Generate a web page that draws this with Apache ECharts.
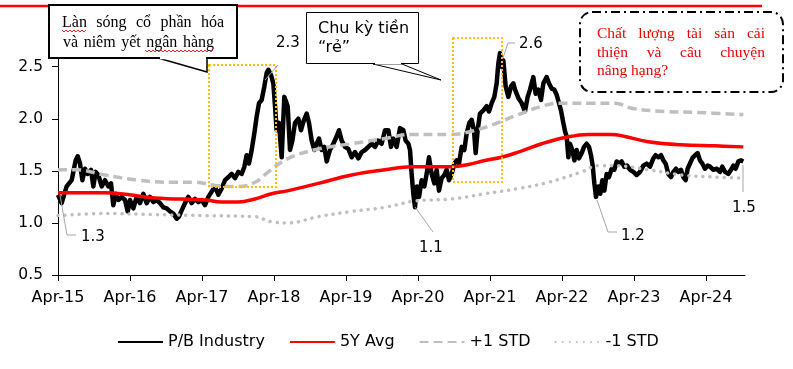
<!DOCTYPE html>
<html><head><meta charset="utf-8">
<script src="https://cdn.jsdelivr.net/npm/echarts@6/dist/echarts.min.js"></script>
<style>html,body{margin:0;padding:0;background:#fff}#c{width:793px;height:369px}</style>
</head><body><div id="c"></div>
<script>
// x = months since Apr-2015
const tickLabels = ['Apr-15','Apr-16','Apr-17','Apr-18','Apr-19','Apr-20','Apr-21','Apr-22','Apr-23','Apr-24'];
const seriesNames = ['P/B Industry','5Y Avg','+1 STD','-1 STD'];

const pbIndustry = [
[0,1.27],[0.61,1.19],[1.44,1.35],[2.28,1.41],[2.94,1.60],[3.28,1.64],[3.67,1.57],[4.06,1.41],[4.5,1.52],[4.94,1.47],
[5.5,1.51],[5.89,1.35],[6.28,1.49],[6.72,1.46],[7.28,1.35],[7.83,1.41],[8.39,1.35],[8.83,1.38],[9.22,1.17],[9.61,1.28],
[10.06,1.22],[10.61,1.25],[11.17,1.22],[11.61,1.11],[12,1.22],[12.56,1.14],[13.11,1.25],[13.67,1.19],[14.22,1.28],[14.78,1.19],
[15.33,1.25],[15.89,1.20],[16.44,1.22],[17,1.19],[17.56,1.15],[18.11,1.14],[18.67,1.11],[19.22,1.09],[19.78,1.04],[20.17,1.06],
[20.61,1.12],[21.17,1.19],[21.72,1.25],[22.28,1.19],[22.83,1.23],[23.39,1.20],[23.94,1.22],[24.5,1.17],[25.06,1.25],[25.61,1.30],
[26.17,1.35],[26.72,1.27],[27.28,1.33],[27.83,1.41],[28.39,1.44],[28.94,1.47],[29.5,1.43],[30.06,1.49],[30.61,1.47],[31.06,1.54],
[31.44,1.65],[31.83,1.57],[32.28,1.70],[32.72,1.86],[33.11,2.02],[33.5,2.15],[33.94,2.18],[34.39,2.31],[34.78,2.44],[35.06,2.47],
[35.5,2.42],[35.89,2.34],[36.17,2.12],[36.44,1.89],[36.83,1.96],[37.28,1.63],[37.72,2.21],
[38.28,2.12],[38.67,1.70],[39.06,1.79],[39.5,1.96],[40.06,2.00],[40.5,1.89],[40.89,1.97],[41.44,2.05],[41.83,1.96],[42.28,1.79],
[42.72,1.70],[43.11,1.76],[43.5,1.81],[43.94,1.70],[44.39,1.73],[44.78,1.59],[45.33,1.70],[45.89,1.76],[46.44,1.83],[46.83,1.89],
[47.28,1.79],[47.83,1.73],[48.39,1.71],[48.94,1.63],[49.5,1.68],[50.06,1.62],[50.61,1.68],[51.17,1.70],[51.72,1.73],[52.28,1.76],
[52.83,1.73],[53.39,1.79],[53.94,1.76],[54.5,1.89],[55.06,1.89],[55.5,1.73],[55.89,1.81],[56.44,1.73],[57,1.91],[57.56,1.89],
[57.94,1.79],[58.39,1.76],[58.67,1.70],[58.94,1.47],[59.22,1.28],[59.5,1.15],[59.83,1.35],[60.17,1.25],[60.61,1.41],[61.06,1.35],
[61.44,1.47],[61.83,1.63],[62.28,1.47],[62.72,1.38],[63.11,1.51],[63.5,1.31],[63.94,1.43],[64.39,1.46],[64.78,1.51],[65.17,1.41],
[65.61,1.47],[66.06,1.57],[66.44,1.60],[66.83,1.57],[67.28,1.73],[67.72,1.70],[68.11,1.86],[68.56,1.96],[68.94,1.99],[69.33,1.89],
[69.61,1.67],[69.94,1.89],[70.33,2.05],[70.89,2.08],[71.44,2.12],[71.83,2.07],[72.28,2.15],[72.72,2.21],[73.11,2.34],[73.39,2.53],
[73.67,2.63],[73.94,2.50],[74.22,2.56],[74.61,2.31],[75.06,2.21],[75.5,2.31],[75.89,2.34],
[76.17,2.28],[76.72,2.20],[77.28,2.15],[77.83,2.07],[78.28,2.21],[78.67,2.28],[79.22,2.40],[79.61,2.24],[80.06,2.28],[80.5,2.18],
[80.89,2.34],[81.44,2.40],[81.83,2.34],[82.28,2.29],[82.72,2.28],[83.11,2.23],[83.5,2.15],[83.83,2.08],[84.22,1.96],[84.5,1.88],
[84.78,1.83],[85.06,1.63],[85.33,1.76],[85.72,1.70],[86.06,1.60],[86.44,1.70],[86.83,1.62],[87.28,1.67],[87.67,1.73],[88.11,1.76],
[88.5,1.73],[88.83,1.65],[89.11,1.55],[89.39,1.38],[89.67,1.25],[90.06,1.35],[90.39,1.28],[90.72,1.41],[91.06,1.31],[91.44,1.47],
[91.83,1.44],[92.28,1.52],[92.72,1.51],[93.11,1.59],[93.5,1.57],[93.94,1.59],[94.39,1.54],[94.83,1.55],[95.33,1.51],[95.89,1.49],
[96.44,1.46],[97,1.49],[97.56,1.55],[98.11,1.57],[98.67,1.54],[99.22,1.62],[99.61,1.65],[100.06,1.63],[100.5,1.65],[100.89,1.60],
[101.28,1.57],[101.72,1.47],[102.17,1.44],[102.56,1.49],[103,1.52],[103.39,1.49],[103.83,1.51],[104.22,1.44],[104.61,1.41],[104.94,1.52],
[105.33,1.57],[105.72,1.62],[106.17,1.65],[106.61,1.67],[107,1.60],[107.39,1.57],[107.83,1.52],[108.28,1.55],[108.67,1.54],[109.22,1.51],
[109.78,1.52],[110.33,1.49],[110.72,1.54],[111.17,1.49],[111.72,1.47],[112.17,1.51],[112.56,1.55],[112.94,1.52],[113.39,1.59],[113.83,1.60],
[114.22,1.59]
];
const avg5Y = [[0,1.29],[7.83,1.29],[16.17,1.24],[24.5,1.22],[27.28,1.20],[30.06,1.20],[32.83,1.23],[35.61,1.28],[38.39,1.31],
[43.39,1.38],[48.94,1.46],[54.5,1.51],[58.94,1.54],[65.61,1.54],[68.39,1.56],[71.17,1.60],[73.94,1.63],[76.72,1.68],
[80.61,1.76],[84.5,1.82],[88.39,1.85],[92.28,1.85],[94.5,1.83],[98.39,1.78],[103.94,1.75],[109.5,1.74],[114.22,1.73]];
const plusStd = [[0,1.51],[2.83,1.51],[7.83,1.46],[13.39,1.41],[18.94,1.39],[22.83,1.39],[26.17,1.36],[30.06,1.35],[32.83,1.39],[35.06,1.49],[38.39,1.62],
[43.39,1.71],[48.94,1.76],[54.5,1.81],[58.94,1.85],[65.61,1.85],[68.94,1.88],[72.28,1.94],[76.72,2.04],
[80.61,2.12],[83.39,2.15],[88.94,2.15],[92.83,2.15],[95.61,2.10],[101.17,2.07],[106.72,2.06],[114.22,2.04]];
const minusStd = [[0,1.07],[7.83,1.09],[16.17,1.08],[24.5,1.07],[32.83,1.06],[35.61,1.01],[38.39,1.00],
[43.39,1.06],[48.94,1.11],[54.5,1.15],[59.5,1.21],[65.61,1.23],[71.17,1.28],[76.72,1.33],
[81.72,1.39],[87.28,1.49],[90.06,1.55],[92.83,1.55],[98.39,1.51],[103.94,1.46],[109.5,1.44],[114.22,1.43]];

const SANS = '"DejaVu Sans"';
const SERIF = '"Liberation Serif"';
const chart = echarts.init(document.getElementById('c'), null, {renderer:'canvas'});

const mctx = document.createElement('canvas').getContext('2d');
function justified(words, x0, x1, y, size, family, color) {
  mctx.font = size + 'px ' + family;
  const widths = words.map(w => mctx.measureText(w).width);
  const total = widths.reduce((a,b)=>a+b,0);
  const gap = words.length > 1 ? (x1 - x0 - total) / (words.length - 1) : 0;
  let x = x0; const out = [];
  words.forEach((w,i) => {
    out.push({type:'text', z:110, style:{text:w, x:x, y:y, fill:color, font: size+'px '+family, verticalAlign:'middle'}});
    x += widths[i] + gap;
  });
  return out;
}
function squiggle(x0, x1, y) {
  const pts = []; let up = true;
  for (let x = x0; x <= x1; x += 2) { pts.push([x, y + (up ? -1 : 1)]); up = !up; }
  return {type:'polyline', z:110, shape:{points:pts}, style:{stroke:'#ff2020', lineWidth:1, fill:null}};
}
function txt(t, x, y, size, family, color) {
  return {type:'text', z:110, style:{text:t, x:x, y:y, fill:color||'#000', font:size+'px '+family, verticalAlign:'middle'}};
}
function leader(points) {
  return {type:'polyline', z:105, shape:{points:points}, style:{stroke:'#a6a6a6', lineWidth:1, fill:null}};
}

const graphics = [
  {type:'line', z:100, shape:{x1:0,y1:6,x2:762,y2:6}, style:{stroke:'#ff0000', lineWidth:2.5}},
  // orange highlight boxes
  {type:'rect', z:104, shape:{x:209,y:65,width:67,height:122}, style:{fill:null, stroke:'#ffc000', lineWidth:2, lineDash:[2,2]}},
  {type:'rect', z:104, shape:{x:453,y:38,width:49,height:144}, style:{fill:null, stroke:'#ffc000', lineWidth:2, lineDash:[2,2]}},
  // callout 1
  {type:'polygon', z:106, shape:{points:[[158,58],[207,72],[207,58]]}, style:{fill:'#fff', stroke:'#000', lineWidth:1.5}},
  {type:'rect', z:107, shape:{x:49,y:5,width:188,height:53}, style:{fill:'#fff', stroke:'#000', lineWidth:2}},
  {type:'line', z:108, shape:{x1:160,y1:58,x2:206,y2:58}, style:{stroke:'#fff', lineWidth:2.5}},
  // callout 2
  {type:'polygon', z:106, shape:{points:[[373,64],[441,80],[402,64]]}, style:{fill:'#fff', stroke:'#000', lineWidth:1}},
  {type:'rect', z:107, shape:{x:306.5,y:12.5,width:112,height:51}, style:{fill:'#fff', stroke:'#000', lineWidth:1}},
  {type:'line', z:108, shape:{x1:375,y1:63.5,x2:401,y2:63.5}, style:{stroke:'#fff', lineWidth:1.5}},
  // callout 3
  {type:'rect', z:107, shape:{x:580,y:12,width:203,height:80,r:12}, style:{fill:'#fff', stroke:'#000', lineWidth:2, lineDash:[9,4,2,4]}},
  // value labels + leaders
  leader([[265,80],[278,65]]), txt('2.3', 276, 43, 15, SANS),
  leader([[503,58],[508,43],[515,43]]), txt('2.6', 519, 44, 15, SANS),
  leader([[60,195],[67,235],[76,235]]), txt('1.3', 81, 237, 15, SANS),
  leader([[415,207],[433,232]]), txt('1.1', 419, 248, 15, SANS),
  leader([[597,200],[608,232],[617,232]]), txt('1.2', 621, 236, 15, SANS),
  leader([[743,165],[743,192]]), txt('1.5', 732, 208, 15, SANS),
  txt('Chu kỳ tiền', 318, 29, 16, SANS),
  txt('\u201Cr\u1EBB\u201D', 318, 48, 16, SANS),
  squiggle(62, 87, 31), squiggle(145, 213, 51)
].concat(
  justified(['Làn','sóng','cổ','phần','hóa'], 62, 224, 23, 16, SERIF, '#000'),
  justified(['và','niêm','yết','ngân','hàng'], 63, 214, 43, 16, SERIF, '#000'),
  justified(['Chất','lượng','tài','sản','cải'], 597, 765, 34, 15.5, SERIF, '#ee0000'),
  justified(['thiện','và','câu','chuyện'], 597, 765, 53, 15.5, SERIF, '#ee0000'),
  [txt('nâng hạng?', 597, 71, 15.5, SERIF, '#ee0000')]
);

chart.setOption({
  animation:false,
  backgroundColor:'#fff',
  grid:{left:58, right:48, top:25, bottom:94, containLabel:false},
  legend:{left:117, top:334, padding:0, itemWidth:45, itemHeight:12, itemGap:24,
    itemStyle:{opacity:0},
    textStyle:{fontFamily:SANS, fontSize:16, color:'#000'},
    data:seriesNames},
  xAxis:{type:'value', min:0, max:114.5, interval:12,
    axisLine:{show:true, lineStyle:{color:'#000', width:1}},
    axisTick:{show:true, length:6, lineStyle:{color:'#000'}},
    splitLine:{show:false},
    axisLabel:{margin:15, fontFamily:SANS, fontSize:16, color:'#000', showMaxLabel:false,
      formatter:v => (v % 12 === 0 && tickLabels[v/12]) ? tickLabels[v/12] : ''}},
  yAxis:{type:'value', min:0.5, max:2.9, interval:0.5,
    axisLine:{show:true, lineStyle:{color:'#000', width:1}},
    axisTick:{show:true, length:6, lineStyle:{color:'#000'}},
    splitLine:{show:false},
    axisLabel:{margin:15, fontFamily:SANS, fontSize:15.5, color:'#000', showMaxLabel:false,
      formatter:v => (Math.abs(v*2 - Math.round(v*2)) < 1e-6) ? v.toFixed(1) : ''}},
  series:[
    {name:seriesNames[0], type:'line', data:pbIndustry, symbol:'none', lineStyle:{color:'#000', width:4.5, join:'round'}, itemStyle:{color:'#000'}},
    {name:seriesNames[1], type:'line', data:avg5Y, symbol:'none', smooth:0.4, lineStyle:{color:'#ff0000', width:3.5}, itemStyle:{color:'#ff0000'}},
    {name:seriesNames[2], type:'line', data:plusStd, symbol:'none', smooth:0.4, lineStyle:{color:'#bfbfbf', width:3.5, type:[9,5]}, itemStyle:{color:'#bfbfbf'}},
    {name:seriesNames[3], type:'line', data:minusStd, symbol:'none', smooth:0.4, lineStyle:{color:'#bfbfbf', width:3.5, type:[0.1,7], cap:'round'}, itemStyle:{color:'#bfbfbf'}}
  ],
  graphic:graphics
});
</script></body></html>
